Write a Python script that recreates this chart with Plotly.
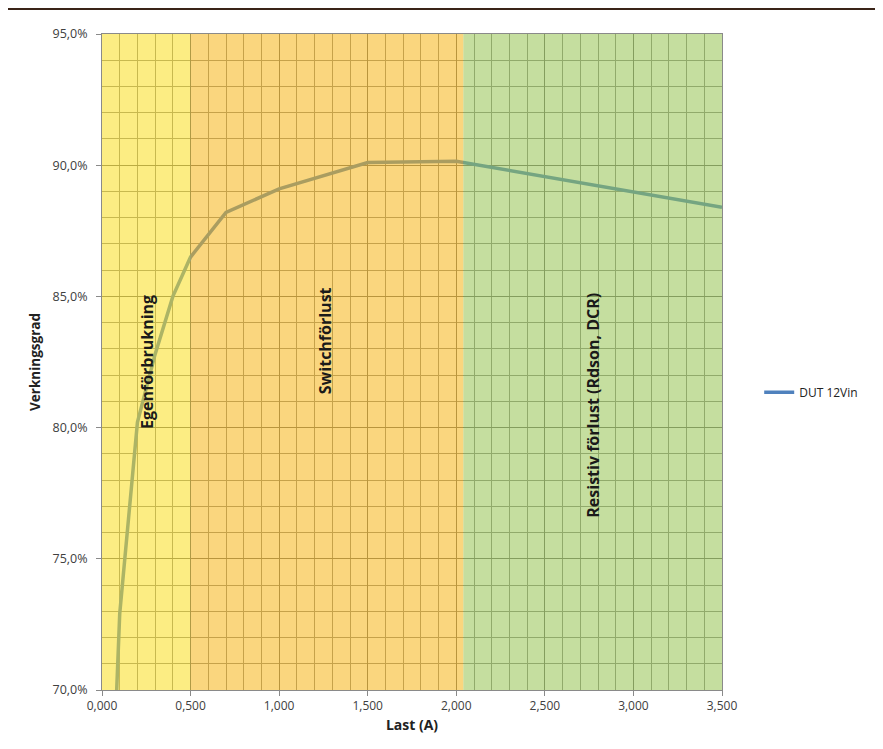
import plotly.graph_objects as go

# Data
load_a = [0.08, 0.10, 0.20, 0.30, 0.40, 0.50, 0.70, 1.00, 1.50, 2.00, 3.50]
efficiency = [0.695, 0.729, 0.802, 0.828, 0.850, 0.865, 0.882, 0.891, 0.901, 0.9015, 0.884]
series_name = "DUT 12Vin"

regions = [
    (0.0, 0.5, "Egenförbrukning"),
    (0.5, 2.04, "Switchförlust"),
    (2.04, 3.5, "Resistiv förlust (Rdson, DCR)"),
]
region_colors = ["rgb(250,222,30)", "rgb(246,180,20)", "rgb(150,195,80)"]
label_pos = [(0.254, 0.825), (1.26, 0.833), (2.77, 0.8086)]

x_ticks = [0, 0.5, 1.0, 1.5, 2.0, 2.5, 3.0, 3.5]
y_ticks = [0.70, 0.75, 0.80, 0.85, 0.90, 0.95]

fig = go.Figure()
fig.add_trace(go.Scatter(
    x=load_a, y=efficiency, mode="lines", name=series_name,
    line=dict(color="#4F81BD", width=3.5),
))

shapes = []
for (x0, x1, _), col in zip(regions, region_colors):
    shapes.append(dict(type="rect", xref="x", yref="y", x0=x0, x1=x1, y0=0.70, y1=0.95,
                       fillcolor=col, opacity=0.55, line=dict(width=0), layer="above"))
# top decorative rule
shapes.append(dict(type="line", xref="paper", yref="paper", x0=-0.17, x1=1.27,
                   y0=1.0381, y1=1.0381, line=dict(color="#3a2418", width=2)))
fig.update_layout(shapes=shapes)

for (x0, x1, txt), (lx, ly) in zip(regions, label_pos):
    fig.add_annotation(x=lx, y=ly, xref="x", yref="y", text="<b>" + txt + "</b>",
                       textangle=-90, showarrow=False,
                       font=dict(family="Open Sans", size=16, color="#1a1a1a"))

fig.update_layout(
    width=875, height=741,
    margin=dict(l=94, r=161, t=26, b=59),
    paper_bgcolor="white", plot_bgcolor="white",
    separators=", ",
    font=dict(family="Open Sans", size=12, color="#404040"),
    showlegend=True,
    legend=dict(x=1.06, y=0.454, xanchor="left", yanchor="middle",
                font=dict(family="Open Sans", size=12, color="#222222"),
                bgcolor="rgba(0,0,0,0)"),
    xaxis=dict(
        range=[0, 3.5], tickvals=x_ticks, tickformat=".3f",
        showgrid=True, gridcolor="#707070", gridwidth=1,
        minor=dict(dtick=0.1, showgrid=True, gridcolor="#8c8c8c", gridwidth=1),
        showline=True, linecolor="#8a8a8a", mirror=True,
        ticks="outside", ticklen=5, tickcolor="#8a8a8a",
        zeroline=False,
        title=dict(text="<b>Last (A)</b>", font=dict(size=14, color="#222222"), standoff=6),
        tickfont=dict(size=12, color="#404040"),
    ),
    yaxis=dict(
        range=[0.70, 0.95], tickvals=y_ticks, tickformat=".1%",
        showgrid=True, gridcolor="#707070", gridwidth=1,
        minor=dict(dtick=0.01, showgrid=True, gridcolor="#8c8c8c", gridwidth=1),
        showline=True, linecolor="#8a8a8a", mirror=True,
        ticks="outside", ticklen=5, tickcolor="#8a8a8a",
        ticklabelstandoff=6,
        zeroline=False,
        title=dict(text="<b>Verkningsgrad</b>", font=dict(size=13.5, color="#222222"), standoff=8),
        tickfont=dict(size=12.5, color="#404040"),
    ),
)

fig.write_html("out.html")
